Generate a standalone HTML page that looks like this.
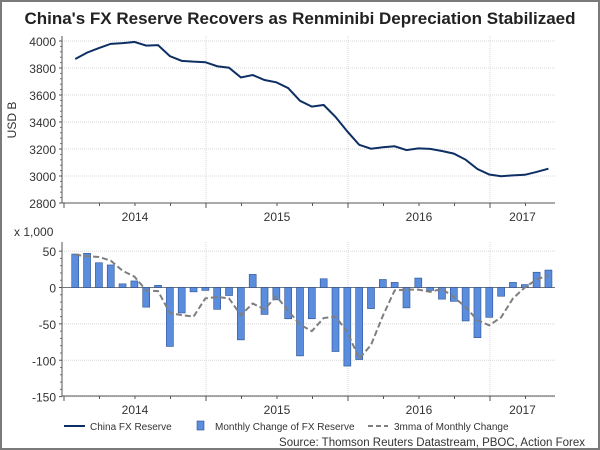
<!DOCTYPE html>
<html><head><meta charset="utf-8"><style>
html,body{margin:0;padding:0;background:#fff}
#wrap{position:relative;width:596px;height:446px;border:2px solid #7a7a7a;background:#fff;overflow:hidden}
svg{position:absolute;left:-2px;top:-2px}
text{font-family:"Liberation Sans",sans-serif;fill:#333}
</style></head><body>
<div id="wrap">
<svg id="c" width="600" height="450"></svg>
</div>
<script>
const months = 41; // Jan 2014 .. May 2017
const reserve = [3867,3914,3948,3979,3984,3993,3966,3969,3888,3853,3847,3843,3813,3802,3730,3748,3711,3694,3651,3557,3514,3526,3438,3330,3231,3202,3213,3220,3192,3205,3201,3185,3166,3121,3052,3011,2998,3005,3009,3030,3054];
const change = [46,47,34,31,5,9,-27,3,-81,-35,-6,-4,-30,-11,-72,18,-37,-17,-43,-94,-43,12,-88,-108,-99,-29,11,7,-28,13,-4,-16,-19,-46,-69,-41,-12,7,4,21,24];
const mma = [45,43,42,37,23,15,-4,-5,-35,-38,-40,-15,-13,-15,-38,-22,-30,-12,-32,-51,-60,-42,-40,-61,-98,-79,-39,-4,-3,-3,-6,-2,-13,-27,-45,-52,-41,-15,0,11,17];
const topTicks = [2800,3000,3200,3400,3600,3800,4000];
const botTicks = [-150,-100,-50,0,50];
const years = ["2014","2015","2016","2017"];

const NS="http://www.w3.org/2000/svg";
const svg=document.getElementById('c');
function el(tag,attrs,parent){const e=document.createElementNS(NS,tag);for(const k in attrs)e.setAttribute(k,attrs[k]);(parent||svg).appendChild(e);return e;}
const X0=64, MW=11.83, XL=62, XR=555;
const x = i => X0 + MW*(i+0.95);
const yT = v => 203 - (v-2800)*0.135;
const yB = v => 287.5 - v*0.7275;

let t=el('text',{x:300,y:24,'font-size':'17','font-weight':'bold','text-anchor':'middle',style:'fill:#222'});
t.textContent="China's FX Reserve Recovers as Renminibi Depreciation Stabilizaed";



function panel(ticks,ys,top,bottom,name){
  const g=el('g',{});
  
  
  ticks.forEach(v=>{
    el('line',{x1:XL,x2:XR,y1:ys(v),y2:ys(v),stroke:'#d8d8d8','stroke-dasharray':'1,1'},g);
    const tx=el('text',{x:56,y:ys(v)+5,'font-size':'12','text-anchor':'end'},g);
    tx.textContent=v;
    
    
    el('line',{x1:XL-3,x2:XL,y1:ys(v),y2:ys(v),stroke:'#555'},g);
  });
  for(let k=1;k<4;k++){const xx=X0+142*k;el('line',{x1:xx,x2:xx,y1:top,y2:bottom,stroke:'#d8d8d8','stroke-dasharray':'1,1'},g);}
  for(let i=0;i<ticks.length-1;i++){const a=ys(ticks[i]),b=ys(ticks[i+1]);for(let m=1;m<5;m++){const yy=a+(b-a)*m/5;el('line',{x1:XL-2,x2:XL,y1:yy,y2:yy,stroke:'#777'},g);}}
  el('line',{x1:XL,x2:XL,y1:top,y2:bottom,stroke:'#555'},g);
  el('line',{x1:XL,x2:XR,y1:bottom,y2:bottom,stroke:'#555'},g);
  for(let q=0;q<14;q++){const xx=X0+35.5*q;if(xx>XR)break;el('line',{x1:xx,x2:xx,y1:bottom,y2:bottom+(q%4==0?5:3),stroke:'#555'},g);}
  years.forEach((yr,k)=>{
    const xx = k<3 ? X0+142*k+71 : (X0+142*3+XR)/2;
    const tx=el('text',{x:xx,y:bottom+18,'font-size':'12','text-anchor':'middle'},g);
    tx.textContent=yr;
    
    
  });
}
panel(topTicks,yT,36,203,'top-panel');
panel(botTicks,yB,242,396,'bottom-panel');

let yl=el('text',{x:16,y:120,'font-size':'12','text-anchor':'middle',transform:'rotate(-90 16 120)'});
yl.textContent='USD B';


let k1=el('text',{x:14,y:236,'font-size':'12'});
k1.textContent='x 1,000';



el('line',{x1:XL,x2:XR,y1:yB(0),y2:yB(0),stroke:'#777'});

let rl=el('polyline',{points:reserve.map((v,i)=>x(i)+','+yT(v)).join(' '),fill:'none',stroke:'#0d2f63','stroke-width':'2'});



change.forEach((v,i)=>{
  const y0=yB(0),y1=yB(v);
  const b=el('rect',{x:x(i)-3.5,y:Math.min(y0,y1),width:7,height:Math.abs(y1-y0),fill:'#5b8ddf',stroke:'#2c4f8f','stroke-width':'0.6'});
  
  
});

let ml=el('polyline',{points:mma.map((v,i)=>x(i)+','+yB(v)).join(' '),fill:'none',stroke:'#7f7f7f','stroke-width':'2','stroke-dasharray':'6,3'});



const lg=el('g',{});


el('line',{x1:64,x2:85,y1:426,y2:426,stroke:'#0d2f63','stroke-width':'2'},lg);
let l1=el('text',{x:90,y:430,'font-size':'10'},lg);l1.textContent='China FX Reserve';
el('rect',{x:197,y:421,width:7,height:9,fill:'#5b8ddf',stroke:'#2c4f8f','stroke-width':'0.6'},lg);
let l2=el('text',{x:215,y:430,'font-size':'10'},lg);l2.textContent='Monthly Change of FX Reserve';
el('line',{x1:368,x2:388,y1:426,y2:426,stroke:'#7f7f7f','stroke-width':'2','stroke-dasharray':'5,3'},lg);
let l3=el('text',{x:394,y:430,'font-size':'10'},lg);l3.textContent='3mma of Monthly Change';
let src=el('text',{x:585,y:446,'font-size':'11.5','text-anchor':'end'});
src.textContent='Source: Thomson Reuters Datastream, PBOC, Action Forex';


</script>
</body></html>
